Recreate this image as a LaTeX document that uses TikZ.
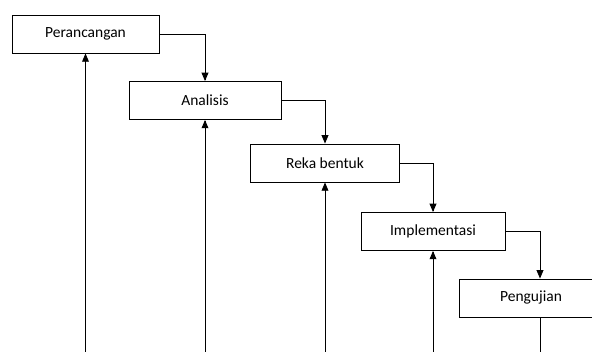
\documentclass[tikz,border=0pt]{standalone}
\usepackage{fontspec}
\setmainfont{Carlito}
\usetikzlibrary{arrows,positioning}
\tikzset{
    %Define standard arrow tip
    >=triangle 45,
    %Define style for boxes
    phase/.style={
           rectangle,
           draw=black, line width=0.95pt,
           minimum height=38pt,
           font=\fontsize{15.5}{17}\selectfont,
           text centered,
           fill=white},
    % Define arrow style
    pil/.style={
           ->,
           line width=0.9pt}
}
\begin{document}
\begin{tikzpicture}[x=1pt,y=-1pt]
\useasboundingbox (0,0) rectangle (592,352);

 %nodes
\node[phase, minimum width=147pt](1) at (85.5,34){Perancangan};
\node[phase, minimum width=152pt](2) at (205,100.5){Analisis};
\node[phase, minimum width=149pt](3) at (325,163){Reka bentuk};
\node[phase, minimum width=144pt](4) at (433,231.5){Implementasi};
\node[phase, minimum width=144pt](5) at (531,298){Pengujian};
\coordinate (base) at (0,352);
\coordinate (5in) at ([xshift=9pt]5.north);
\coordinate (5out) at ([xshift=9pt]5.south);

 %flow down
\draw[pil] (1.east) -| (2.north);
\draw[pil] (2.east) -| (3.north);
\draw[pil] (3.east) -| (4.north);
\draw[pil] (4.east) -| (5in);

 %feedback up
\draw[pil] (1.south |- base) -- (1.south);
\draw[pil] (2.south |- base) -- (2.south);
\draw[pil] (3.south |- base) -- (3.south);
\draw[pil] (4.south |- base) -- (4.south);
\draw[line width=0.9pt] (5out) -- (5out |- base);

\end{tikzpicture}
\end{document}
